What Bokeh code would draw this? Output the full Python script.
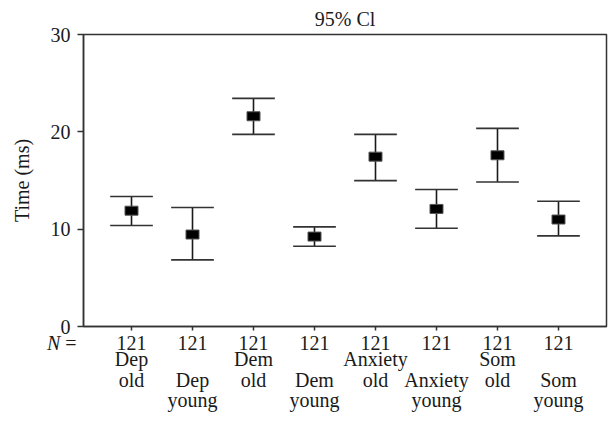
from bokeh.plotting import figure
from bokeh.models import Range1d, FixedTicker, LinearAxis, Div
from bokeh.embed import file_html
from bokeh.resources import INLINE

groups = ["Dep", "Dep", "Dem", "Dem", "Anxiety", "Anxiety", "Som", "Som"]
ages = ["old", "young", "old", "young", "old", "young", "old", "young"]
n_counts = [121, 121, 121, 121, 121, 121, 121, 121]
means = [11.9, 9.45, 21.6, 9.24, 17.45, 12.08, 17.59, 10.99]
upper = [13.35, 12.22, 23.44, 10.24, 19.74, 14.07, 20.36, 12.87]
lower = [10.37, 6.85, 19.74, 8.24, 14.99, 10.09, 14.85, 9.31]
y_ticks = [0, 10, 20, 30]

FONT = "Liberation Serif"
FS = "20px"
INK = "#1a1a1a"
LINE = "#333333"

xs = list(range(1, len(means) + 1))
half = 0.35

p = figure(width=608, height=421, output_backend="svg", toolbar_location=None,
           x_range=Range1d(0.213, 8.787), y_range=Range1d(0, 30),
           min_border_left=83, min_border_right=2, min_border_top=26,
           min_border_bottom=95, title="95% Cl")
p.background_fill_color = "white"
p.border_fill_color = "white"
p.outline_line_color = LINE
p.outline_line_width = 1.5
p.grid.visible = False

p.title.align = "center"
p.title.text_font = FONT
p.title.text_font_size = FS
p.title.text_font_style = "normal"
p.title.text_color = INK

# error bars
p.segment(x0=xs, y0=lower, x1=xs, y1=upper, line_color=INK, line_width=1.6)
p.segment(x0=[x - half for x in xs], y0=upper, x1=[x + half for x in xs], y1=upper,
          line_color=LINE, line_width=1.6)
p.segment(x0=[x - half for x in xs], y0=lower, x1=[x + half for x in xs], y1=lower,
          line_color=LINE, line_width=1.6)
p.rect(x=xs, y=means, width=13, height=9, width_units="screen", height_units="screen",
       fill_color="black", line_color="#555555", line_width=1)

# main axes
p.xaxis.ticker = FixedTicker(ticks=xs)
p.xaxis.major_label_overrides = {x: str(n) for x, n in zip(xs, n_counts)}
p.yaxis.ticker = FixedTicker(ticks=y_ticks)
p.yaxis.axis_label = "Time (ms)"


def style(ax):
    ax.major_label_text_font = FONT
    ax.major_label_text_font_size = FS
    ax.major_label_text_color = INK
    ax.axis_label_text_font = FONT
    ax.axis_label_text_font_size = FS
    ax.axis_label_text_font_style = "normal"
    ax.axis_label_text_color = INK
    ax.minor_tick_line_color = None
    ax.major_tick_in = 0


for ax in (p.xaxis[0], p.yaxis[0]):
    style(ax)
    ax.axis_line_color = LINE
    ax.axis_line_width = 1.5
    ax.major_tick_line_color = LINE
    ax.major_tick_line_width = 1.5
p.xaxis[0].major_tick_out = 4
p.xaxis[0].major_label_standoff = 5
p.yaxis[0].major_tick_out = 6
p.yaxis[0].major_label_standoff = 7
p.yaxis[0].axis_label_standoff = 15

# stacked rows of category text under the N row
row1 = {x: (g if i % 2 == 0 else "") for i, (x, g) in enumerate(zip(xs, groups))}
row2 = {x: (a if i % 2 == 0 else g) for i, (x, g, a) in enumerate(zip(xs, groups, ages))}
row3 = {x: ("" if i % 2 == 0 else a) for i, (x, a) in enumerate(zip(xs, ages))}
for rows, so in ((row1, -5), (row2, -4), (row3, -5)):
    ax = LinearAxis(ticker=FixedTicker(ticks=xs), major_label_overrides=rows)
    style(ax)
    ax.axis_line_color = None
    ax.major_tick_line_color = None
    ax.major_tick_out = 0
    ax.major_label_standoff = so
    p.add_layout(ax, "below")

n_label = Div(text="<i>N</i> =", styles={
    "position": "absolute", "left": "47px", "top": "333px",
    "font-family": FONT, "font-size": FS, "line-height": "20px",
    "color": INK, "white-space": "nowrap", "margin": "0", "padding": "0"})

open("out.html", "w").write(file_html((p, n_label), INLINE))
